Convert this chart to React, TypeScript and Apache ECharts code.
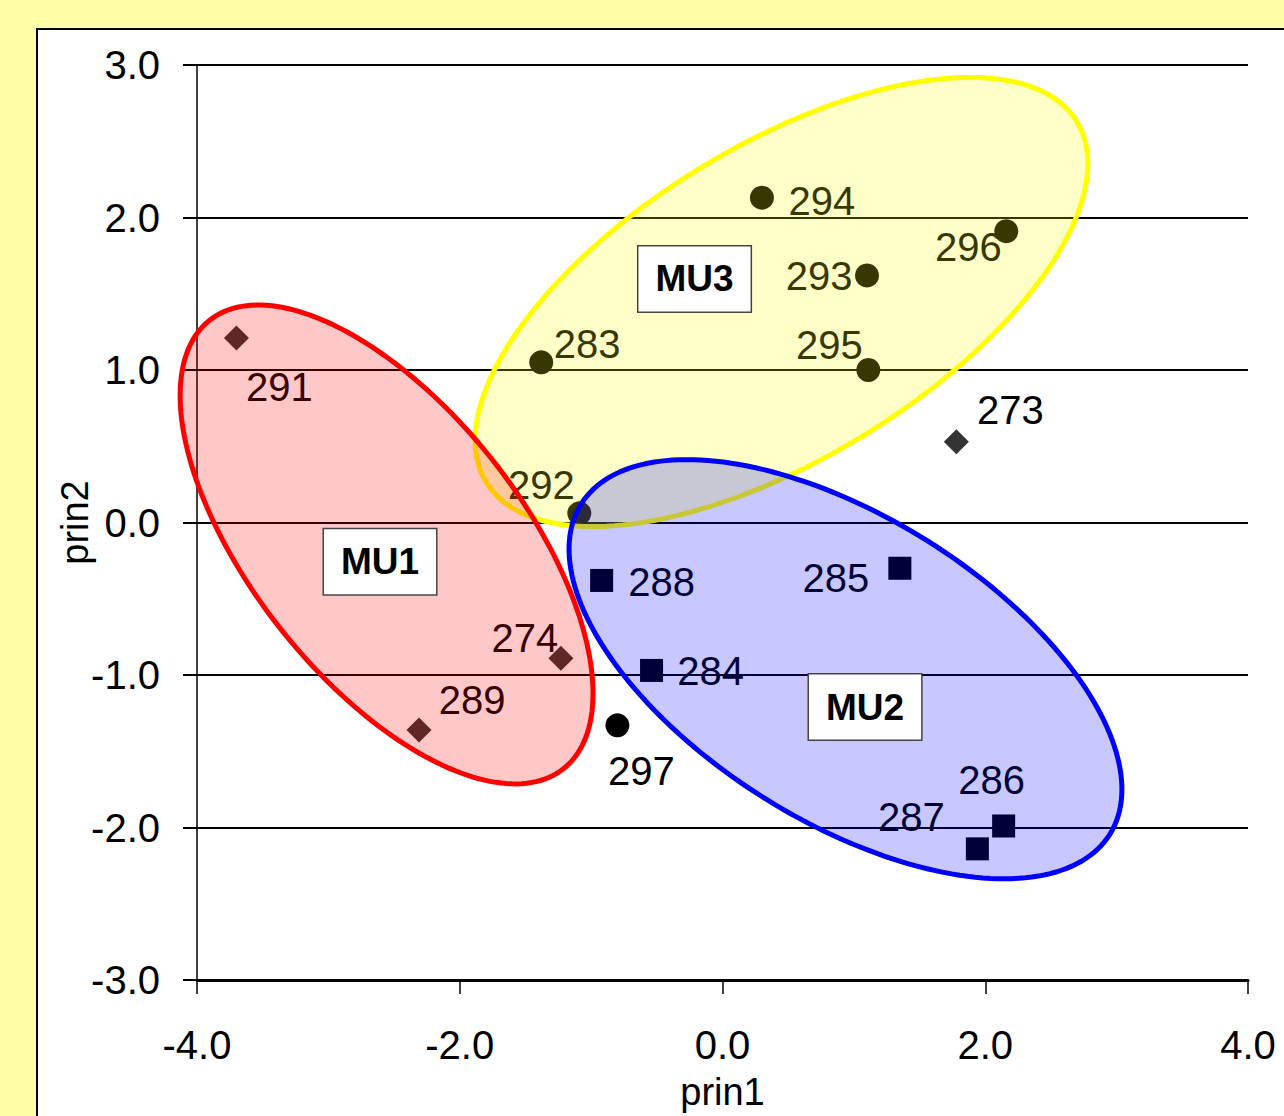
import React, { useEffect, useRef } from "react";
import * as echarts from "echarts";

// ---- point data (prin1, prin2) ----
const diamondIds = ["291", "274", "289", "273"];
const diamondX = [-3.7, -1.23, -2.31, 1.78];
const diamondY = [1.21, -0.89, -1.36, 0.53];

const circleIds = ["294", "296", "293", "283", "295", "292", "297"];
const circleX = [0.3, 2.16, 1.1, -1.38, 1.11, -1.09, -0.8];
const circleY = [2.13, 1.91, 1.62, 1.05, 1.0, 0.06, -1.33];

const squareIds = ["288", "285", "284", "286", "287"];
const squareX = [-0.92, 1.35, -0.54, 2.14, 1.94];
const squareY = [-0.38, -0.3, -0.97, -1.99, -2.14];

// ---- cluster ellipses (data units: centre + two conjugate semi-axis vectors) ----
const clusterNames = ["MU3", "MU1", "MU2"];
const clusterCenterX = [0.449, -2.557, 0.936];
const clusterCenterY = [1.446, -0.144, -0.962];
const clusterAxisU = [
  [2.247, 1.184],
  [1.346, -1.471],
  [2.012, -1.083],
];
const clusterAxisV = [
  [0.624, -0.876],
  [-0.811, -0.549],
  [-0.616, -0.846],
];
const clusterLabelX = [-0.213, -2.607, 1.085];
const clusterLabelY = [1.597, -0.258, -1.21];

// ---- axis ticks ----
const xTicks = { min: -4, max: 4, interval: 2 };
const yTicks = { min: -3, max: 3, interval: 1 };

// ---- styles (label offsets in px) ----
const diamondLabelOffsets = [
  [43, 49],
  [-36, -20],
  [53, -30],
  [54, -32],
];
const circleLabelOffsets = [
  [60, 3],
  [-38, 16],
  [-48, 1],
  [46, -18],
  [-39, -25],
  [-38, -28],
  [24, 46],
];
const squareLabelOffsets = [
  [60, 2],
  [-64, 10],
  [59, 1],
  [-12, -46],
  [-66, -32],
];
const clusterStroke = ["#FFFF00", "#FF0000", "#0000FF"];
const clusterFill = [
  "rgba(255,255,0,0.216)",
  "rgba(255,0,0,0.216)",
  "rgba(0,0,255,0.216)",
];

const FONT = "'Liberation Sans', Arial, sans-serif";

function pointSeries(
  ids: string[],
  xs: number[],
  ys: number[],
  offsets: number[][],
  symbol: string,
  size: number,
  color: string
) {
  return {
    type: "scatter",
    z: 2,
    symbol,
    symbolSize: size,
    itemStyle: { color, opacity: 1 },
    emphasis: { disabled: true },
    data: ids.map((id, i) => ({
      value: [xs[i], ys[i]],
      name: id,
      label: {
        show: true,
        position: "inside",
        offset: offsets[i],
        formatter: id,
        color: "#000",
        opacity: 1,
        fontSize: 40,
        fontFamily: FONT,
      },
    })),
  };
}

export default function App() {
  const ref = useRef<HTMLDivElement>(null);

  useEffect(() => {
    if (!ref.current) return;
    const chart = echarts.init(ref.current, null, { renderer: "svg" });
    const option = {
      animation: false,
      backgroundColor: "transparent",
      textStyle: { fontFamily: FONT },
      grid: { left: 197, right: 36, top: 65, bottom: 133, containLabel: false },
      xAxis: {
        type: "value",
        min: xTicks.min,
        max: xTicks.max,
        interval: xTicks.interval,
        position: "bottom",
        name: "prin1",
        nameLocation: "middle",
        nameGap: 93,
        nameMoveOverlap: false,
        nameTextStyle: { fontSize: 38, color: "#000", fontFamily: FONT },
        axisLine: { show: true, onZero: false, lineStyle: { color: "#000", width: 3 } },
        axisTick: { show: true, length: 14, lineStyle: { color: "#000", width: 1.5 } },
        axisLabel: {
          formatter: (v: number) => v.toFixed(1),
          fontSize: 40,
          color: "#000",
          margin: 45,
          fontFamily: FONT,
        },
        splitLine: { show: false },
      },
      yAxis: {
        type: "value",
        min: yTicks.min,
        max: yTicks.max,
        interval: yTicks.interval,
        name: "prin2",
        nameLocation: "middle",
        nameGap: 103,
        nameMoveOverlap: false,
        nameTextStyle: { fontSize: 38, color: "#000", fontFamily: FONT },
        axisLine: { show: true, onZero: false, lineStyle: { color: "#000", width: 1.5 } },
        axisTick: { show: true, length: 14, lineStyle: { color: "#000", width: 2 } },
        axisLabel: {
          formatter: (v: number) => v.toFixed(1),
          fontSize: 40,
          color: "#000",
          margin: 37,
          fontFamily: FONT,
        },
        splitLine: { show: true, lineStyle: { color: "#000", width: 2 } },
      },
      series: [
        pointSeries(diamondIds, diamondX, diamondY, diamondLabelOffsets, "diamond", 25, "#333333"),
        pointSeries(circleIds, circleX, circleY, circleLabelOffsets, "circle", 24, "#000000"),
        pointSeries(squareIds, squareX, squareY, squareLabelOffsets, "rect", 23, "#000000"),
        {
          type: "custom",
          z: 5,
          clip: false,
          silent: true,
          data: clusterCenterX.map((x, i) => [x, clusterCenterY[i]]),
          encode: { x: 0, y: 1 },
          renderItem: (params: any, api: any) => {
            const i = params.dataIndex;
            const cx = api.value(0);
            const cy = api.value(1);
            const u = clusterAxisU[i];
            const v = clusterAxisV[i];
            const pts: number[][] = [];
            const N = 200;
            for (let k = 0; k < N; k++) {
              const t = (2 * Math.PI * k) / N;
              const c = Math.cos(t);
              const s = Math.sin(t);
              pts.push(api.coord([cx + u[0] * c + v[0] * s, cy + u[1] * c + v[1] * s]));
            }
            return {
              type: "polygon",
              shape: { points: pts },
              style: { fill: clusterFill[i], stroke: clusterStroke[i], lineWidth: 5 },
            };
          },
        },
        {
          type: "scatter",
          z: 10,
          silent: true,
          symbolSize: 1,
          itemStyle: { color: "rgba(0,0,0,0)", opacity: 1 },
          data: clusterNames.map((n, i) => ({
            value: [clusterLabelX[i], clusterLabelY[i]],
            name: n,
          })),
          label: {
            show: true,
            position: "inside",
            formatter: (p: any) => p.name,
            fontSize: 37,
            fontWeight: "bold",
            color: "#000",
            opacity: 1,
            fontFamily: FONT,
            backgroundColor: "#FFFFFF",
            borderColor: "#444444",
            borderWidth: 1.5,
            padding: [15, 17, 13, 17],
          },
        },
      ],
    };
    chart.setOption(option as any);
    return () => chart.dispose();
  }, []);

  return (
    <div
      style={{
        position: "fixed",
        left: 0,
        top: 0,
        width: 1284,
        height: 1116,
        background: "#FFFFA8",
        overflow: "hidden",
      }}
    >
      <div
        style={{
          position: "absolute",
          left: 36,
          top: 28,
          width: 1400,
          height: 1200,
          background: "#FFFFFF",
          borderLeft: "2px solid #000",
          borderTop: "2px solid #000",
        }}
      />
      <div
        ref={ref}
        style={{ position: "absolute", left: 0, top: 0, width: 1284, height: 1116 }}
      />
    </div>
  );
}
